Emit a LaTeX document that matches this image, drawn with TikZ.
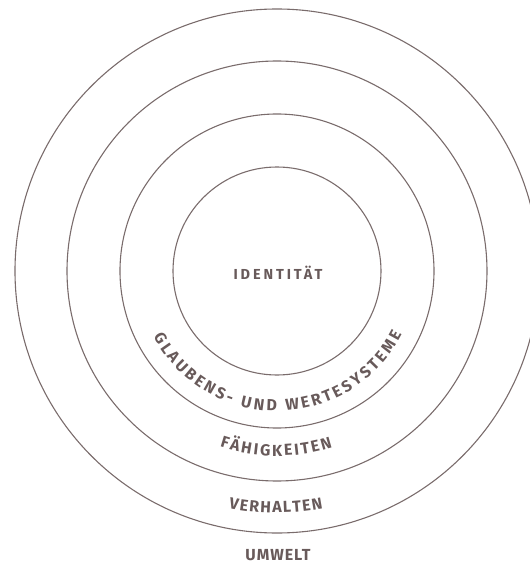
\documentclass[tikz,border=0pt]{standalone}
\usepackage{fontspec}
\newfontfamily\ringfont{Fira Sans}[UprightFont={* Bold}]
\newfontfamily\spacedfont{Fira Sans}[UprightFont={* Bold},LetterSpace=20]
\newfontfamily\widefont{Fira Sans}[UprightFont={* Bold},LetterSpace=6]
\definecolor{ringline}{RGB}{122,108,108}
\definecolor{ringtext}{RGB}{104,90,90}
\usetikzlibrary{decorations.text}
\newcommand{\arcfont}{\ringfont\fontsize{16}{16}\selectfont}
\tikzset{
  ring/.style={draw=ringline,line width=1.1pt},
  arclabel/.style={decorate,decoration={text along path,text align=fit to path,
      text color=ringtext,text={|\arcfont|#1}}}
}

\begin{document}
\begin{tikzpicture}[x=1pt,y=1pt]
  \useasboundingbox (-277,-294) rectangle (253,271);
  % rings, inside out
  \foreach \r in {104,157,210,262}
    \draw[ring] (0,0) circle[radius=\r pt];
  \node[font=\spacedfont\fontsize{14.5}{14.5}\selectfont\color{ringtext}] (identity) at (1,-2) {IDENTITÄT};
  \path[arclabel={GLAUBENS- UND WERTESYSTEME}] (-152:140pt) arc[start angle=-152,end angle=-27,radius=140pt];
  \path[arclabel={FÄHIGKEITEN}] (-108:185pt) arc[start angle=-108,end angle=-72.5,radius=185pt];
  \path[arclabel={VERHALTEN}] (-101.5:242pt) arc[start angle=-101.5,end angle=-79,radius=242pt];
  \node[font=\widefont\fontsize{16}{16}\selectfont\color{ringtext}] (umwelt) at (1,-284.5) {UMWELT};
\end{tikzpicture}
\end{document}
